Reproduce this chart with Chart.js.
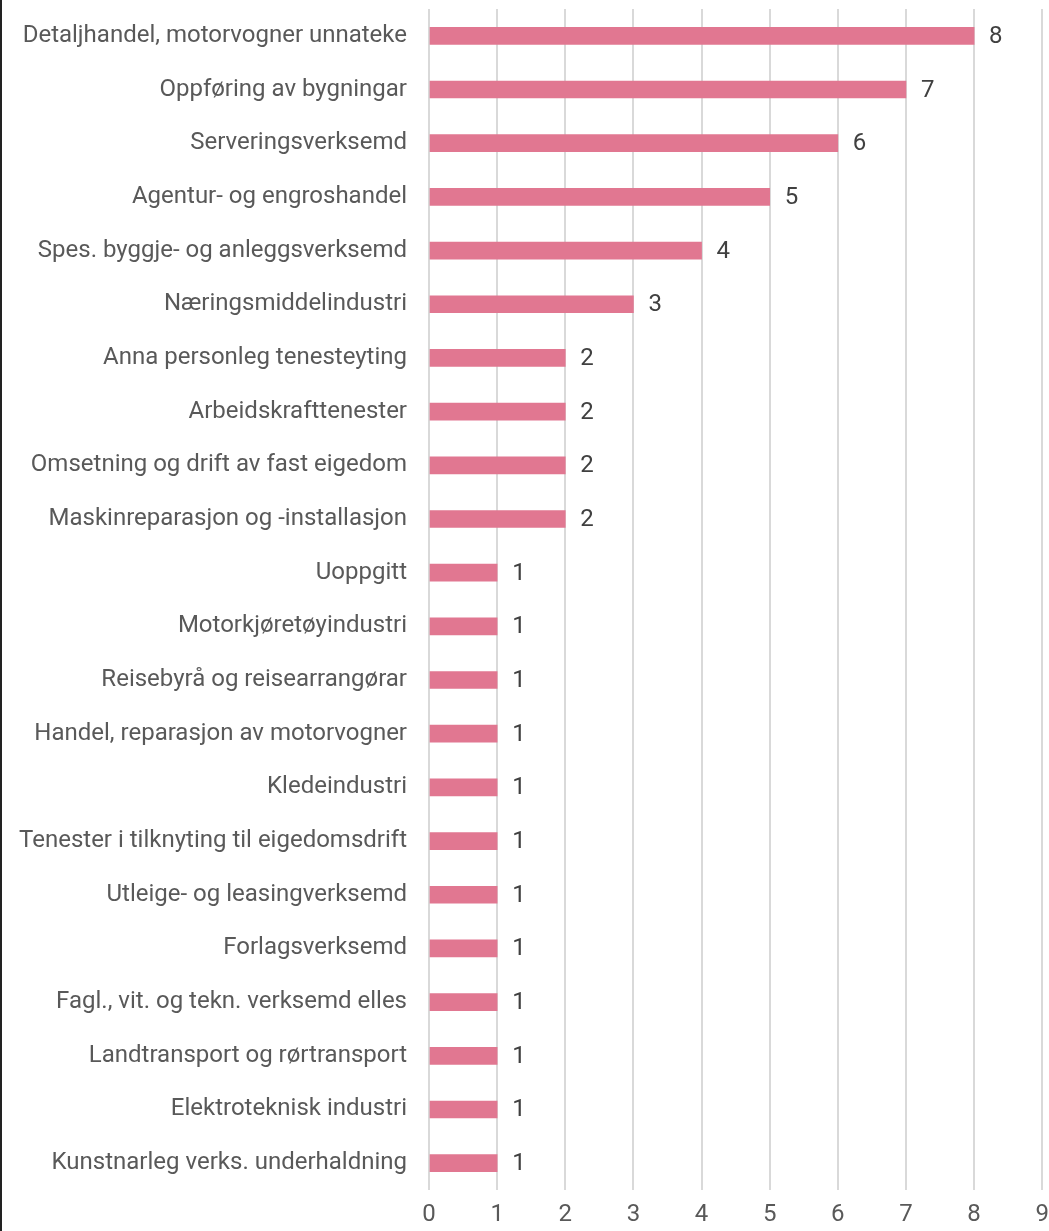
<!DOCTYPE html>
<html>
<head>
<meta charset="utf-8">
<script src="https://cdn.jsdelivr.net/npm/chart.js@4"></script>
<style>
  html, body { margin: 0; padding: 0; background: #fff; overflow: hidden; }
  #wrap { position: relative; width: 1049px; height: 1231px; border-left: 2px solid #222; box-sizing: border-box; }
</style>
</head>
<body>
<div id="wrap"><canvas id="myChart" width="1047" height="1231"></canvas></div>
<script>
let bransjar = [
    "Detaljhandel, motorvogner unnateke",
    "Oppføring av bygningar",
    "Serveringsverksemd",
    "Agentur- og engroshandel",
    "Spes. byggje- og anleggsverksemd",
    "Næringsmiddelindustri",
    "Anna personleg tenesteyting",
    "Arbeidskrafttenester",
    "Omsetning og drift av fast eigedom",
    "Maskinreparasjon og -installasjon",
    "Uoppgitt",
    "Motorkjøretøyindustri",
    "Reisebyrå og reisearrangørar",
    "Handel, reparasjon av motorvogner",
    "Kledeindustri",
    "Tenester i tilknyting til eigedomsdrift",
    "Utleige- og leasingverksemd",
    "Forlagsverksemd",
    "Fagl., vit. og tekn. verksemd elles",
    "Landtransport og rørtransport",
    "Elektroteknisk industri",
    "Kunstnarleg verks. underhaldning"
];
let antal = [8, 7, 6, 5, 4, 3, 2, 2, 2, 2, 1, 1, 1, 1, 1, 1, 1, 1, 1, 1, 1, 1];
let aksemerke = [0, 1, 2, 3, 4, 5, 6, 7, 8, 9];

let skrift = "Roboto, 'Liberation Sans', sans-serif";

// tal ved enden av kvar stolpe
let talEtiketter = {
    id: "talEtiketter",
    afterDatasetsDraw(chart) {
        let ctx = chart.ctx;
        let meta = chart.getDatasetMeta(0);
        ctx.save();
        ctx.font = "24px " + skrift;
        ctx.fillStyle = "#404040";
        ctx.textAlign = "left";
        ctx.textBaseline = "middle";
        meta.data.forEach(function (bar, i) {
            ctx.fillText(String(antal[i]), bar.x + 15, bar.y + 1);
        });
        ctx.restore();
    }
};

let grafica = document.getElementById("myChart");

new Chart(grafica, {
    type: "bar",
    data: {
        labels: bransjar,
        datasets: [{
            label: "Tal",
            data: antal,
            backgroundColor: "#e17791",
            barThickness: 17
        }]
    },
    options: {
        indexAxis: "y",
        responsive: false,
        maintainAspectRatio: false,
        animation: false,
        layout: { padding: { top: 0, left: 0, bottom: 0, right: 2 } },
        plugins: {
            legend: { display: false },
            tooltip: { enabled: false }
        },
        scales: {
            x: {
                min: 0,
                max: 9,
                afterBuildTicks(axis) {
                    axis.ticks = aksemerke.map(v => ({ value: v }));
                },
                afterFit(axis) { axis.height = 41; },
                border: { display: false },
                grid: {
                    color: "#d9d9d9",
                    lineWidth: 2,
                    drawTicks: true,
                    tickLength: 11,
                    tickColor: "rgba(0,0,0,0)"
                },
                ticks: {
                    padding: 0,
                    color: "#595959",
                    font: { family: skrift, size: 24 }
                }
            },
            y: {
                afterFit(axis) { axis.width = 427; },
                border: { display: false },
                grid: {
                    display: true,
                    drawOnChartArea: false,
                    drawTicks: true,
                    tickLength: 22,
                    tickColor: "rgba(0,0,0,0)"
                },
                ticks: {
                    padding: 0,
                    color: "#595959",
                    font: { family: skrift, size: 24, lineHeight: 0.75 }
                }
            }
        }
    },
    plugins: [talEtiketter]
});
</script>
</body>
</html>
